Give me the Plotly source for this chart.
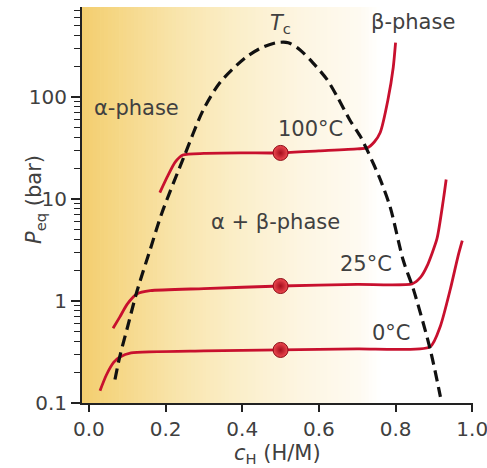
import numpy as np
import plotly.graph_objects as go

# ---- data ----
x_100 = [0.185, 0.205, 0.225, 0.245, 0.30, 0.40, 0.50, 0.60, 0.70, 0.726, 0.745, 0.76, 0.78, 0.794, 0.80]
p_100 = [11.5, 16.6, 22.9, 26.9, 27.9, 28.2, 28.2, 29.5, 30.9, 31.6, 36.3, 44.7, 93, 195, 339]

x_25 = [0.063, 0.08, 0.10, 0.125, 0.16, 0.30, 0.50, 0.70, 0.843, 0.865, 0.882, 0.908, 0.925, 0.932]
p_25 = [0.54, 0.69, 0.93, 1.17, 1.26, 1.32, 1.40, 1.45, 1.47, 1.70, 2.19, 4.07, 10.0, 15.5]

x_0 = [0.029, 0.045, 0.065, 0.081, 0.11, 0.30, 0.50, 0.70, 0.89, 0.917, 0.943, 0.963, 0.974]
p_0 = [0.132, 0.186, 0.251, 0.282, 0.309, 0.324, 0.331, 0.339, 0.355, 0.569, 1.31, 2.75, 3.89]

x_dome = [0.068, 0.081, 0.10, 0.125, 0.16, 0.19, 0.25, 0.298, 0.342, 0.407, 0.45, 0.49, 0.52,
          0.551, 0.585, 0.621, 0.648, 0.681, 0.708, 0.726, 0.76, 0.786, 0.82, 0.846, 0.89, 0.917]
p_dome = [0.17, 0.29, 0.54, 1.23, 3.2, 7.2, 27, 74, 138, 240, 302, 339, 339,
          288, 214, 148, 100, 59, 41, 30, 15.5, 8.3, 2.5, 1.32, 0.34, 0.115]

marker_x = [0.5, 0.5, 0.5]
marker_p = [28.2, 1.40, 0.331]

x_ticks = [0.0, 0.2, 0.4, 0.6, 0.8, 1.0]
x_ticktext = ["0.0", "0.2", "0.4", "0.6", "0.8", "1.0"]
y_ticks = [0.1, 1, 10, 100]
y_ticktext = ["0.1", "1", "10", "100"]
y_minor = [m * 10.0 ** e for e in (-1, 0, 1, 2) for m in range(2, 10)]

labels = [
    ("α-phase", 0.125, 78),
    ("β-phase", 0.845, 540),
    ("<i>T</i><sub>c</sub>", 0.50, 520),
    ("100°C", 0.577, 48),
    ("α + β-phase", 0.486, 5.9),
    ("25°C", 0.723, 2.3),
    ("0°C", 0.79, 0.48),
]

# ---- style ----
RED = "#c8102e"
FONT = "DejaVu Sans"
TXT = "#404040"
AX = "#222222"

fig = go.Figure()

# background gradient (orange -> white)
stops = [(-0.02, (243, 206, 110)), (0.10, (246, 217, 140)), (0.25, (249, 230, 176)),
         (0.40, (251, 239, 203)), (0.55, (253, 245, 225)), (0.70, (254, 250, 240)),
         (0.76, (255, 255, 255))]
edges = np.linspace(-0.02, 0.76, 80)
sx = [s[0] for s in stops]
shapes = []
for a, b in zip(edges[:-1], edges[1:]):
    m = 0.5 * (a + b)
    c = [int(round(np.interp(m, sx, [s[1][k] for s in stops]))) for k in range(3)]
    shapes.append(dict(type="rect", xref="x", yref="paper", x0=a, x1=b + 0.002, y0=0, y1=1,
                       fillcolor=f"rgb({c[0]},{c[1]},{c[2]})", line=dict(width=0), layer="below"))

for xs, ps in [(x_100, p_100), (x_25, p_25), (x_0, p_0)]:
    fig.add_trace(go.Scatter(x=xs, y=ps, mode="lines",
                             line=dict(color=RED, width=2.8, shape="spline", smoothing=0.6),
                             showlegend=False, hoverinfo="skip"))

fig.add_trace(go.Scatter(x=x_dome, y=p_dome, mode="lines",
                         line=dict(color="#111111", width=3.2, dash="11px,6px", shape="spline", smoothing=0.8),
                         showlegend=False, hoverinfo="skip"))

fig.add_trace(go.Scatter(x=marker_x, y=marker_p, mode="markers",
                         marker=dict(size=15, color="#ee4a50",
                                     gradient=dict(type="radial", color="#a50d1c"),
                                     line=dict(color="#8a0a14", width=1)),
                         showlegend=False, hoverinfo="skip"))

annotations = []
for t, x, p in labels:
    annotations.append(dict(text=t, x=x, y=np.log10(p), xref="x", yref="y", showarrow=False,
                            xanchor="center", yanchor="middle",
                            font=dict(family=FONT, size=21, color=TXT)))
annotations.append(dict(text="<i>P</i><sub>eq</sub> (bar)", x=-0.12, y=0.513, xref="paper", yref="paper",
                        xanchor="center", yanchor="middle",
                        textangle=-90, showarrow=False, font=dict(family=FONT, size=21, color=TXT)))
annotations.append(dict(text="<i>c</i><sub>H</sub> (H/M)", x=0.501, y=-0.13, xref="paper", yref="paper",
                        xanchor="center", yanchor="middle",
                        showarrow=False, font=dict(family=FONT, size=21, color=TXT)))

fig.update_layout(
    width=487, height=468,
    margin=dict(l=82, r=14, t=7, b=65, autoexpand=False),
    paper_bgcolor="white", plot_bgcolor="white",
    shapes=shapes, annotations=annotations,
    xaxis=dict(range=[-0.018, 1.002], tickvals=x_ticks, ticktext=x_ticktext, automargin=False,
               showgrid=False, zeroline=False, showline=True, linecolor=AX, linewidth=2,
               ticks="outside", ticklen=7, tickwidth=1.5, tickcolor=AX,
               ticklabeloverflow="allow",
               tickfont=dict(family=FONT, size=20, color=TXT)),
    yaxis=dict(type="log", range=[-1, 2.88], tickvals=y_ticks, ticktext=y_ticktext, automargin=False,
               showgrid=False, zeroline=False, showline=True, linecolor=AX, linewidth=2,
               ticks="outside", ticklen=9, tickwidth=1.5, tickcolor=AX,
               tickfont=dict(family=FONT, size=20, color=TXT),
               minor=dict(tickvals=y_minor, ticks="outside", ticklen=6, tickwidth=1.3, tickcolor=AX)),
)

fig.write_html("out.html", config={"displayModeBar": False},
               post_script="document.body.style.margin='0';")
